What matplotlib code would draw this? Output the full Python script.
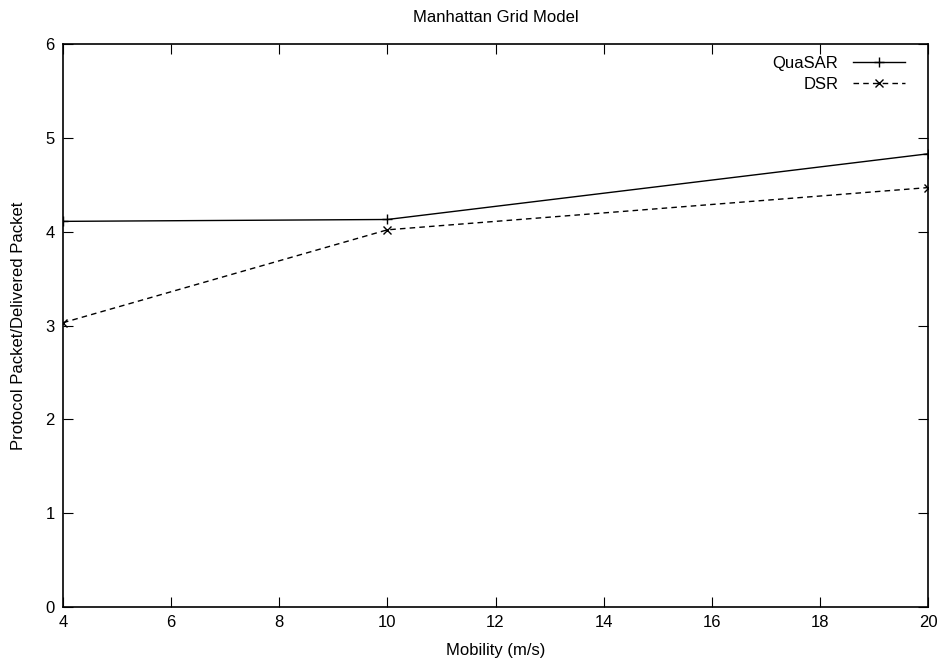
import matplotlib
matplotlib.use("Agg")
import matplotlib.pyplot as plt

plt.rcParams['font.family'] = ['Liberation Sans', 'DejaVu Sans']

mobility = [4, 10, 20]
quasar = [4.11, 4.13, 4.83]
dsr = [3.03, 4.02, 4.47]

fig = plt.figure(figsize=(9.42, 6.65), dpi=100)
ax = fig.add_axes([0.0669, 0.0872, 0.9183, 0.8466])

ax.plot(mobility, quasar, color='black', lw=1, marker='+', ms=7, mew=1, label='QuaSAR')
ax.plot(mobility, dsr, color='black', lw=1, ls=(0, (4, 3)), marker='x', ms=6, mew=1, label='DSR')

ax.set_xlim(4, 20)
ax.set_ylim(0, 6)
ax.set_xticks(range(4, 21, 2))
ax.set_yticks(range(0, 7))
ax.tick_params(direction='in', top=True, right=True, length=7, labelsize=12, pad=6)
for s in ax.spines.values():
    s.set_linewidth(1.2)

ax.set_title('Manhattan Grid Model', fontsize=12, pad=16)
ax.set_xlabel('Mobility (m/s)', fontsize=12, labelpad=9)
ax.set_ylabel('Protocol Packet/Delivered Packet', fontsize=12, labelpad=14)

leg = ax.legend(loc='upper right', frameon=False, fontsize=12, markerfirst=False,
                handlelength=3.1, handletextpad=0.9, borderaxespad=0.0,
                borderpad=0.5, labelspacing=0.35, bbox_to_anchor=(0.983, 0.994))

fig.savefig('out.png', dpi=100)
